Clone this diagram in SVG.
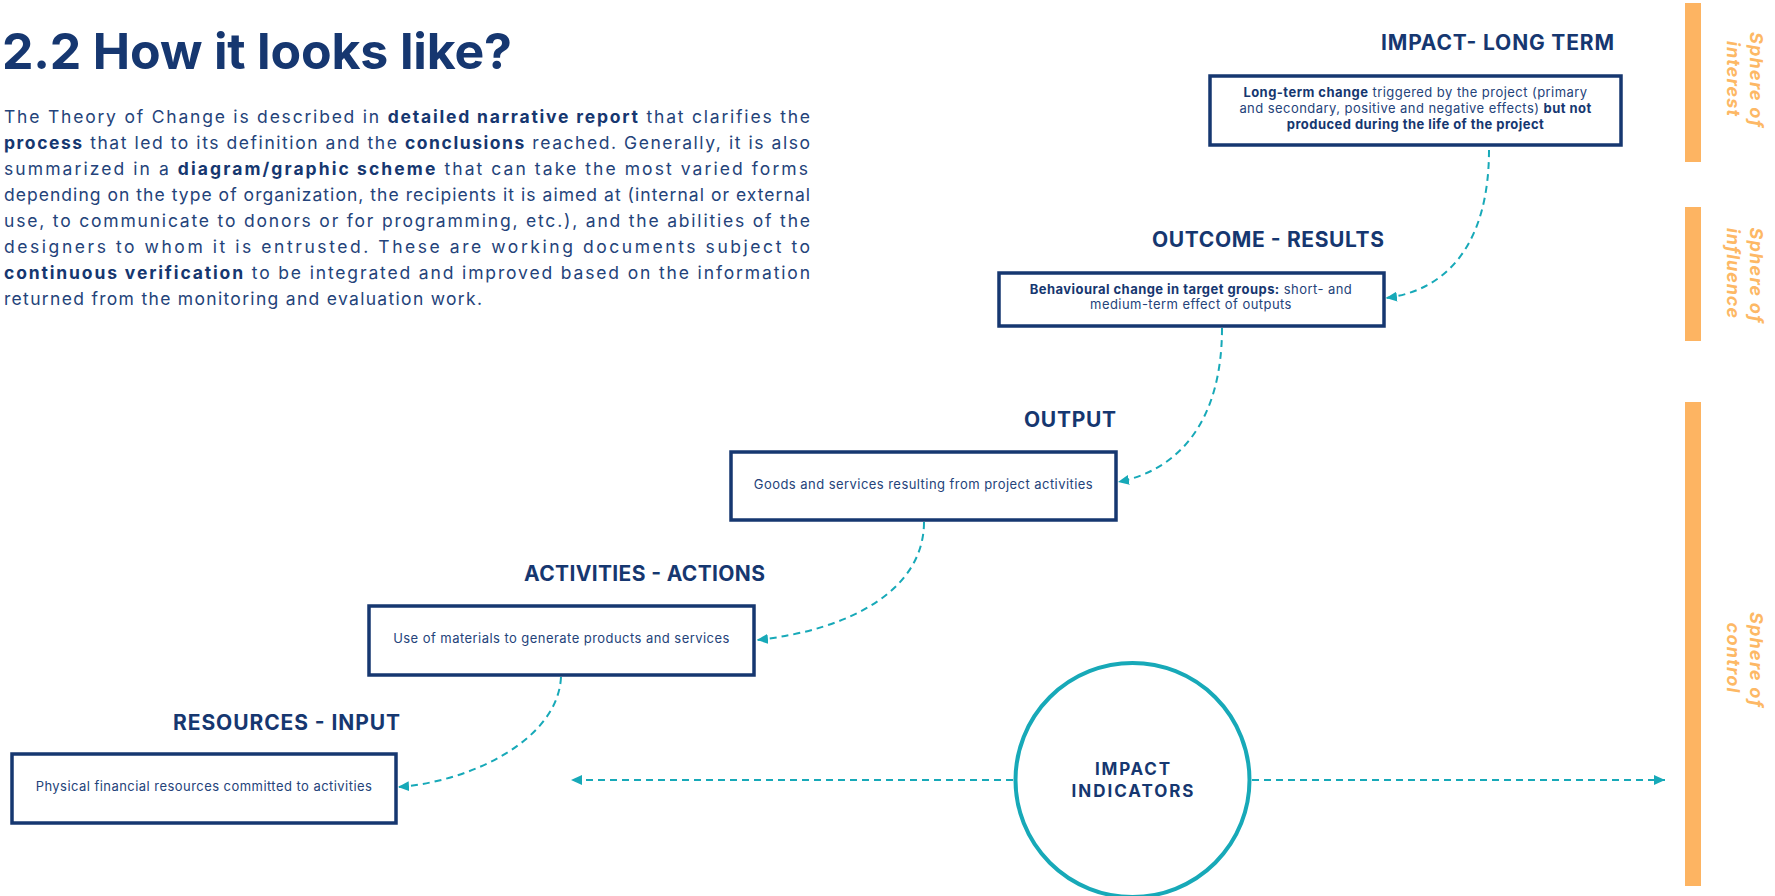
<svg xmlns="http://www.w3.org/2000/svg" width="1775" height="896" viewBox="0 0 1775 896">
  <defs>
    <style>
      .title { font-family: Inter, "Liberation Sans", sans-serif; font-weight: 700; font-size: 50px; fill: #163770; }
      .body { font-family: Inter, "Liberation Sans", sans-serif; font-size: 17.5px; fill: #24437a; }
      .body .b { font-weight: 700; fill: #163770; }
      .head { font-family: Inter, "Liberation Sans", sans-serif; font-weight: 700; font-size: 21px; fill: #163770; text-anchor: end; }
      .box { fill: #ffffff; stroke: #163770; stroke-width: 3.5; }
      .btxt { font-family: Inter, "Liberation Sans", sans-serif; font-size: 13px; letter-spacing: 0.45px; fill: #24437a; text-anchor: middle; }
      .btxt .b { font-weight: 700; fill: #163770; }
      .btxt.b { font-weight: 700; fill: #163770; }
      .link { fill: none; stroke: #17a9b8; stroke-width: 2; stroke-dasharray: 7 5; }
      .ring { fill: #ffffff; stroke: #17a9b8; stroke-width: 4; }
      .ringtxt { font-family: Inter, "Liberation Sans", sans-serif; font-weight: 700; font-size: 17px; fill: #163770; text-anchor: middle; }
      .bar { fill: #fdb462; }
      .sphere { font-family: Inter, "Liberation Sans", sans-serif; font-weight: 700; font-style: italic; font-size: 18px; fill: #fdb865; text-anchor: middle; }
    </style>
    <marker id="arrow" markerUnits="userSpaceOnUse" markerWidth="12" markerHeight="10" refX="11" refY="5" orient="auto">
      <path d="M0,0 L11,5 L0,10 Z" fill="#17a9b8"/>
    </marker>
  </defs>

  <rect width="1775" height="896" fill="#ffffff"/>

  <!-- heading and introduction -->
  <g id="intro">
    <text class="title" x="2" y="69" textLength="510" lengthAdjust="spacing">2.2 How it looks like?</text>
    <text class="body" x="4" y="123" textLength="806" lengthAdjust="spacing">The Theory of Change is described in <tspan class="b">detailed narrative report</tspan> that clarifies the</text>
    <text class="body" x="4" y="149" textLength="806" lengthAdjust="spacing"><tspan class="b">process</tspan> that led to its definition and the <tspan class="b">conclusions</tspan> reached. Generally, it is also</text>
    <text class="body" x="4" y="175" textLength="804" lengthAdjust="spacing">summarized in a <tspan class="b">diagram/graphic scheme</tspan> that can take the most varied forms</text>
    <text class="body" x="4" y="200.5" textLength="806" lengthAdjust="spacing">depending on the type of organization, the recipients it is aimed at (internal or external</text>
    <text class="body" x="4" y="226.5" textLength="806" lengthAdjust="spacing">use, to communicate to donors or for programming, etc.), and the abilities of the</text>
    <text class="body" x="4" y="252.5" textLength="806" lengthAdjust="spacing">designers to whom it is entrusted. These are working documents subject to</text>
    <text class="body" x="4" y="278.5" textLength="806" lengthAdjust="spacing"><tspan class="b">continuous verification</tspan> to be integrated and improved based on the information</text>
    <text class="body" x="4" y="304.5" textLength="478" lengthAdjust="spacing">returned from the monitoring and evaluation work.</text>
  </g>

  <!-- sphere bars and their labels -->
  <g id="spheres">
    <rect class="bar" x="1685" y="3" width="16" height="159"/>
    <rect class="bar" x="1685" y="207" width="16" height="134"/>
    <rect class="bar" x="1685" y="402" width="16" height="484"/>
    <g transform="translate(1749.5,79.5) rotate(90)">
      <text class="sphere" x="0" y="0" textLength="95" lengthAdjust="spacing">Sphere of</text>
      <text class="sphere" x="-1" y="22.5" textLength="75" lengthAdjust="spacing">interest</text>
    </g>
    <g transform="translate(1749.5,275) rotate(90)">
      <text class="sphere" x="0" y="0" textLength="95" lengthAdjust="spacing">Sphere of</text>
      <text class="sphere" x="-2" y="22.5" textLength="90" lengthAdjust="spacing">influence</text>
    </g>
    <g transform="translate(1749.5,659.5) rotate(90)">
      <text class="sphere" x="0" y="0" textLength="95" lengthAdjust="spacing">Sphere of</text>
      <text class="sphere" x="-2" y="22.5" textLength="70" lengthAdjust="spacing">control</text>
    </g>
  </g>

  <!-- connectors -->
  <g id="connectors">
    <path class="link" d="M1489,150 C1489,240 1450,290 1386,298" marker-end="url(#arrow)"/>
    <path class="link" d="M1222,328 C1222,420 1180,470 1118,482" marker-end="url(#arrow)"/>
    <path class="link" d="M924,522 C924,590 850,630 757,640" marker-end="url(#arrow)"/>
    <path class="link" d="M561,677 C558,740 470,782 398,787" marker-end="url(#arrow)"/>
    <path class="link" d="M1013,780 L571,780" marker-end="url(#arrow)"/>
    <path class="link" d="M1252,780 L1665,780" marker-end="url(#arrow)"/>
  </g>

  <g id="impact">
    <text class="head" x="1614" y="50" textLength="233" lengthAdjust="spacing">IMPACT- LONG TERM</text>
    <rect class="box" x="1210" y="76" width="411" height="69"/>
    <text class="btxt" x="1415.5" y="97"><tspan class="b">Long-term change</tspan> triggered by the project (primary</text>
    <text class="btxt" x="1415.5" y="113">and secondary, positive and negative effects) <tspan class="b">but not</tspan></text>
    <text class="btxt b" x="1415.5" y="129">produced during the life of the project</text>
  </g>

  <g id="outcome">
    <text class="head" x="1384" y="247" textLength="232" lengthAdjust="spacing">OUTCOME - RESULTS</text>
    <rect class="box" x="999" y="273" width="385" height="53"/>
    <text class="btxt" x="1191" y="294"><tspan class="b">Behavioural change in target groups:</tspan> short- and</text>
    <text class="btxt" x="1191" y="309">medium-term effect of outputs</text>
  </g>

  <g id="output">
    <text class="head" x="1116" y="427" textLength="92" lengthAdjust="spacing">OUTPUT</text>
    <rect class="box" x="731" y="452" width="385" height="68"/>
    <text class="btxt" x="923.5" y="489">Goods and services resulting from project activities</text>
  </g>

  <g id="activities">
    <text class="head" x="765" y="581" textLength="241" lengthAdjust="spacing">ACTIVITIES - ACTIONS</text>
    <rect class="box" x="369" y="606" width="385" height="69"/>
    <text class="btxt" x="561.5" y="643">Use of materials to generate products and services</text>
  </g>

  <g id="resources">
    <text class="head" x="400" y="730" textLength="227" lengthAdjust="spacing">RESOURCES - INPUT</text>
    <rect class="box" x="12" y="754" width="384" height="69"/>
    <text class="btxt" x="204" y="791">Physical financial resources committed to activities</text>
  </g>

  <g id="impact-indicators">
    <circle class="ring" cx="1132.5" cy="780" r="117"/>
    <text class="ringtxt" x="1132.5" y="775" textLength="75" lengthAdjust="spacing">IMPACT</text>
    <text class="ringtxt" x="1132.5" y="797" textLength="122" lengthAdjust="spacing">INDICATORS</text>
  </g>
</svg>
